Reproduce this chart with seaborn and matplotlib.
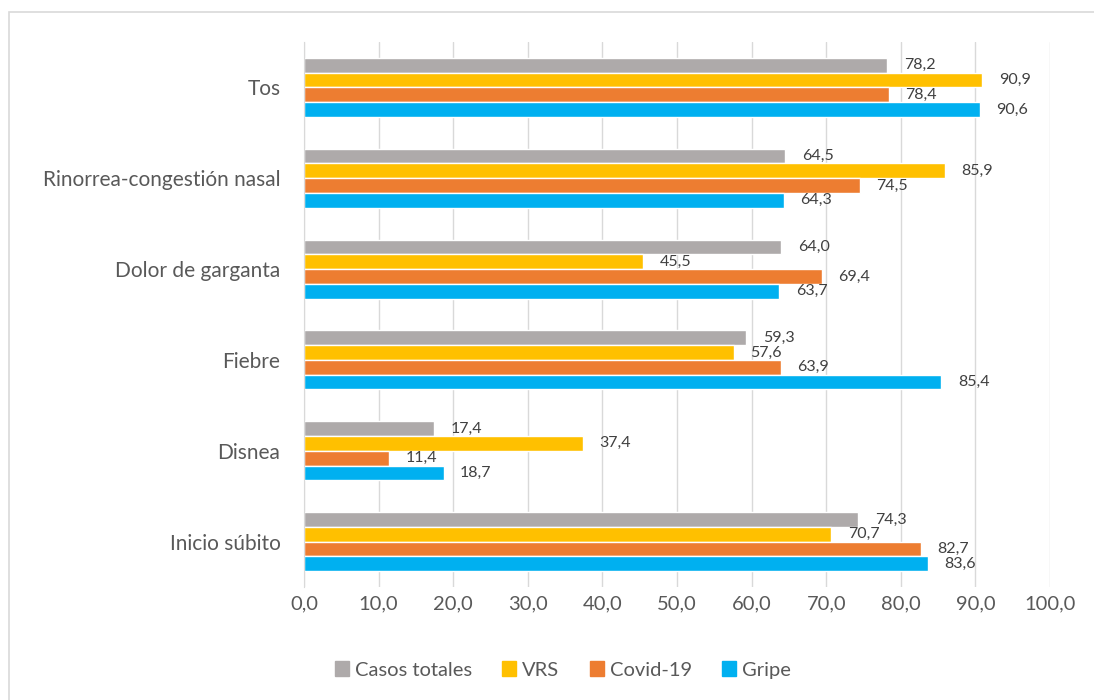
import pandas as pd
import matplotlib.pyplot as plt
import matplotlib.patches as mpatches
import seaborn as sns

# data
symptoms = ['Tos', 'Rinorrea-congestión nasal', 'Dolor de garganta', 'Fiebre', 'Disnea', 'Inicio súbito']
series = ['Casos totales', 'VRS', 'Covid-19', 'Gripe']
casos_totales = [78.2, 64.5, 64.0, 59.3, 17.4, 74.3]
vrs = [90.9, 85.9, 45.5, 57.6, 37.4, 70.7]
covid = [78.4, 74.5, 69.4, 63.9, 11.4, 82.7]
gripe = [90.6, 64.3, 63.7, 85.4, 18.7, 83.6]
colors = ['#AEAAAA', '#FFC000', '#ED7D31', '#00B0F0']

rows = []
for name, vals in zip(series, [casos_totales, vrs, covid, gripe]):
    for s, v in zip(symptoms, vals):
        rows.append({'Sintoma': s, 'Serie': name, 'Valor': v})
df = pd.DataFrame(rows)

sns.set_style('white')
plt.rcParams['font.family'] = ['Lato', 'DejaVu Sans']

fig = plt.figure(figsize=(10.94, 7), dpi=100)
ax = fig.add_axes([304/1094, 1 - 587/700, (1050 - 304)/1094, (587 - 42)/700])

sns.barplot(data=df, y='Sintoma', x='Valor', hue='Serie', order=symptoms, hue_order=series,
            palette=colors, orient='h', width=0.65, saturation=1, ax=ax, legend=False)

# data labels, comma decimal
for cont in ax.containers:
    labels = [f'{b.get_width():.1f}'.replace('.', ',') for b in cont]
    ax.bar_label(cont, labels=labels, padding=12, fontsize=11.5, color='#404040')

ax.set_xlim(0, 100)
ax.set_ylim(5.5, -0.5)
ax.set_xticks(range(0, 101, 10))
ax.set_xticklabels([f'{t:.1f}'.replace('.', ',') for t in range(0, 101, 10)])
ax.tick_params(axis='x', labelsize=14.5, colors='#595959', length=0, pad=6)
ax.tick_params(axis='y', labelsize=15, colors='#595959', length=0, pad=17)
ax.grid(axis='x', color='#D9D9D9', linewidth=1)
ax.set_axisbelow(True)
for side in ['top', 'right', 'bottom']:
    ax.spines[side].set_visible(False)
ax.spines['left'].set_color('#D9D9D9')
ax.set_xlabel('')
ax.set_ylabel('')

handles = [mpatches.Patch(color=c, label=s) for c, s in zip(colors, series)]
fig.legend(handles=handles, loc='center', bbox_to_anchor=(563/1094, 1 - 670/700), ncol=4,
           frameon=False, fontsize=14.5, handlelength=0.7, handleheight=0.7, handletextpad=0.3,
           columnspacing=1.5, labelcolor='#595959')

# chart area border
fig.patches.append(mpatches.Rectangle((9/1094, -0.1), 1.1, 1 - 12/700 + 0.1, transform=fig.transFigure,
                                      fill=False, edgecolor='#D9D9D9', linewidth=1.2))

fig.savefig('out.png', dpi=100)
